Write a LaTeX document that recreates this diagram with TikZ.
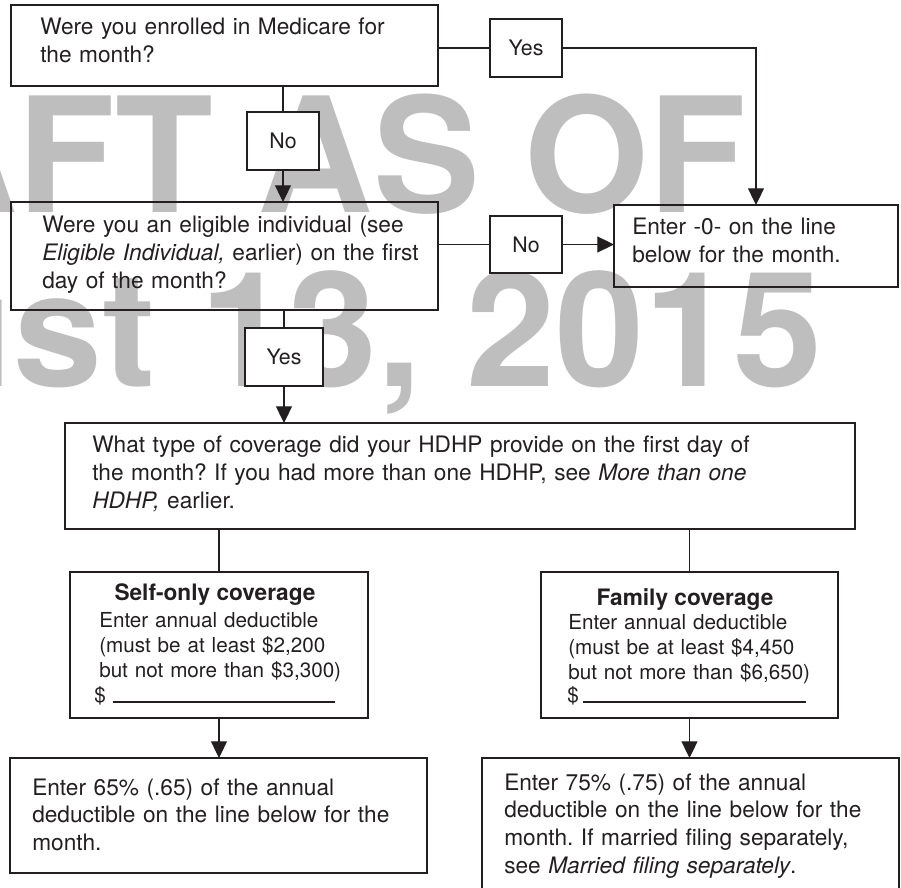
\documentclass[tikz,border=0pt]{standalone}
\usepackage{fontspec}
\setmainfont{TeX Gyre Heros}
\usetikzlibrary{arrows.meta,fit}
\definecolor{wm}{RGB}{190,190,190}
\definecolor{ink}{RGB}{35,31,32}
\frenchspacing
\begin{document}
\begin{tikzpicture}[x=0.75pt,y=-0.75pt,
  box/.style={draw=ink,line width=1pt,inner sep=0pt,outer sep=0pt},
  lbl/.style={box,fill=white,font=\fontsize{16}{19}\selectfont,text=ink},
  txt/.style={anchor=base west,inner sep=0pt,align=left,text width=20cm,text=ink,font=\fontsize{17}{20.8}\selectfont},
  small/.style={anchor=base west,inner sep=0pt,align=left,text width=10cm,text=ink,font=\fontsize{15.5}{18.9}\selectfont},
  ttl/.style={anchor=base,inner sep=0pt,text=ink,font=\fontsize{17}{20}\selectfont\bfseries},
  lab/.style={inner sep=0pt,text=ink,font=\fontsize{16}{19}\selectfont},
  conn/.style={draw=ink,line width=0.8pt},
  arr/.style={conn,-{Triangle[length=12.5pt,width=12pt]}},
  wmark/.style={inner sep=0pt,anchor=base east,text=wm,font=\fontsize{120}{140}\selectfont\bfseries}]
\useasboundingbox (0,0) rectangle (901,888);
\clip (0,0) rectangle (901,888);
% watermark
\node[wmark] (wm1) at (747,213) {DRAFT AS OF};
\node[wmark] (wm2) at (823,387) {August 13, 2015};
% boxes
\node[box,fit={(11,5) (438,86)}] (med) {};
\node[box,fit={(11,202) (438,310)}] (elig) {};
\node[box,fit={(614,205) (898,287)}] (zero) {};
\node[box,fit={(65,423) (855,529)}] (what) {};
\node[box,fit={(70,572) (368,718)}] (self) {};
\node[box,fit={(541,572) (838,718)}] (fam) {};
\node[box,fit={(10,758) (427,873)}] (e65) {};
\node[box,fit={(482,758) (899,900)}] (e75) {};
% labels
\node[lbl,fit={(490,19) (562,77)}] (yes1) {};
\node[lab] (lyes1) at (yes1.center) {Yes};
\node[lbl,fit={(247,112) (319,170)}] (no1) {};
\node[lab] (lno1) at (no1.center) {No};
\node[lbl,fit={(490,216) (562,273)}] (no2) {};
\node[lab] (lno2) at (no2.center) {No};
\node[lbl,fit={(245,328) (323,386)}] (yes2) {};
\node[lab] (lyes2) at (yes2.center) {Yes};
% texts
\node[txt] (tmed) at (40,35) {Were you enrolled in Medicare for\\the month?};
\node[txt] (telig) at (42,233) {Were you an eligible individual (see\\\textit{Eligible Individual,} earlier) on the first\\day of the month?};
\node[txt] (tzero) at (632,235) {Enter -0- on the line\\below for the month.};
\node[txt] (twhat) at (92,453) {What type of coverage did your HDHP provide on the first day of\\the month? If you had more than one HDHP, see \textit{More than one}\\\textit{HDHP,} earlier.};
\node[ttl] (tself) at (215,600) {Self-only coverage};
\node[small] (bself) at (99,627) {Enter annual deductible\\(must be at least \$2,200\\but not more than \$3,300)};
\node[small] (dself) at (94,702) {\$};
\coordinate (us1) at (113,702);
\coordinate (us2) at (335,702);
\draw[conn] (us1) -- (us2);
\node[ttl] (tfam) at (685,605) {Family coverage};
\node[small] (bfam) at (568,629) {Enter annual deductible\\(must be at least \$4,450\\but not more than \$6,650)};
\node[small] (dfam) at (567,702) {\$};
\coordinate (uf1) at (583,702);
\coordinate (uf2) at (806,702);
\draw[conn] (uf1) -- (uf2);
\node[txt] (t65) at (32,795) {Enter 65\% (.65) of the annual\\deductible on the line below for the\\month.};
\node[txt] (t75) at (504,790) {Enter 75\% (.75) of the annual\\deductible on the line below for the\\month. If married filing separately,\\see \textit{Married filing separately}.};
% connectors
\draw[conn] (med.east |- yes1.west) -- (yes1.west);
\draw[arr] (yes1.east) -| (zero.north);
\draw[conn] (no1.north |- med.south) -- (no1.north);
\draw[arr] (no1.south) -- (elig.north -| no1.south);
\draw[conn] (elig.east |- no2.west) -- (no2.west);
\draw[arr] (no2.east) -- (zero.west |- no2.east);
\draw[conn] (yes2.north |- elig.south) -- (yes2.north);
\draw[arr] (yes2.south) -- (what.north -| yes2.south);
\draw[conn] (what.south -| self.north) -- (self.north);
\draw[conn] (what.south -| fam.north) -- (fam.north);
\draw[arr] (self.south) -- (e65.north -| self.south);
\draw[arr] (fam.south) -- (e75.north -| fam.south);
\end{tikzpicture}
\end{document}
